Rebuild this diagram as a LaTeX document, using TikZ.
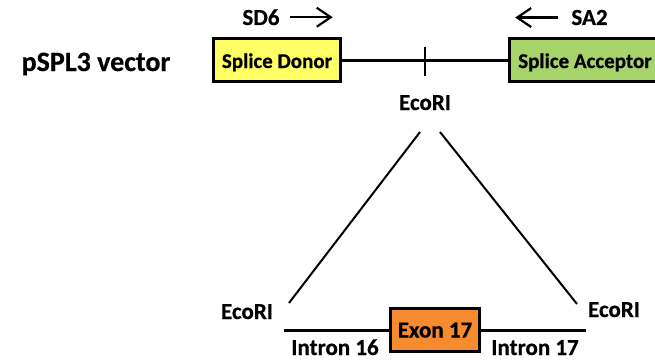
\documentclass[tikz,border=0pt]{standalone}
\usepackage{fontspec}
\setmainfont{Carlito}[BoldFeatures={FakeBold=0.6}]
\usetikzlibrary{arrows.meta}

\definecolor{donorfill}{RGB}{255,255,102}
\definecolor{acceptorfill}{RGB}{166,212,106}
\definecolor{exonfill}{RGB}{245,138,46}

\tikzset{
	lbl/.style={font=\bfseries\fontsize{23}{23}\selectfont, inner sep=0pt},
	seg/.style={draw=black, line width=3pt, inner sep=0pt, minimum height=43pt,
		font=\bfseries\fontsize{21}{21}\selectfont, text height=16pt, text depth=0pt},
	backbone/.style={line width=3pt},
	insert/.style={line width=2pt},
	primer/.style={line width=2.2pt, -{Straight Barb[length=14pt,width=19pt,line width=2.2pt]}},
}

\begin{document}
\begin{tikzpicture}[x=1pt, y=-1pt]
			%%%%% START %%%%%
			\useasboundingbox (0,0) rectangle (655,361);
			
			\node[lbl, font=\bfseries\fontsize{28}{28}\selectfont, anchor=base] (vec) at (96,71) {pSPL3 vector};
			
			\node[seg, fill=donorfill, minimum width=127pt] (donor) at (277,60) {Splice Donor};
			\node[seg, fill=acceptorfill, minimum width=151pt] (acceptor) at (585,60) {Splice Acceptor};
			\draw[backbone] (donor.east) -- (acceptor.west);
			
			\coordinate (cut) at (425,62);
			\draw[line width=2.5pt] ([yshift=-14pt]cut) -- ([yshift=15pt]cut);
			\node[lbl, anchor=base] (ecoTop) at (425,110) {EcoRI};
			
			\node[lbl, anchor=base] (sd6) at (261,25) {SD6};
			\draw[primer] ([xshift=10pt]sd6.east) -- ++(43,0);
			\node[lbl, anchor=base] (sa2) at (589.5,25) {SA2};
			\draw[primer] ([xshift=-13pt]sa2.west) -- ++(-43,0);
			
			\coordinate (l1) at (420,132);
			\coordinate (l2) at (289,303);
			\coordinate (r1) at (440,132);
			\coordinate (r2) at (577,304);
			\draw[insert] (l1) -- (l2);
			\draw[insert] (r1) -- (r2);
			
			\node[seg, fill=exonfill, minimum width=89pt, font=\bfseries\fontsize{23}{23}\selectfont, text height=15pt] (exon) at (435,330) {Exon 17};
			\coordinate (insL) at (284,330);
			\coordinate (insR) at (586,330);
			\draw[backbone] (insL) -- (exon.west);
			\draw[backbone] (exon.east) -- (insR);
			
			\node[lbl, anchor=base] (ecoL) at (247,319) {EcoRI};
			\node[lbl, anchor=base] (ecoR) at (614,317) {EcoRI};
			\node[lbl, anchor=base] (in16) at (335,355) {Intron 16};
			\node[lbl, anchor=base] (in17) at (535,355) {Intron 17};
			
			%%%%% END %%%%%
\end{tikzpicture}
\end{document}
